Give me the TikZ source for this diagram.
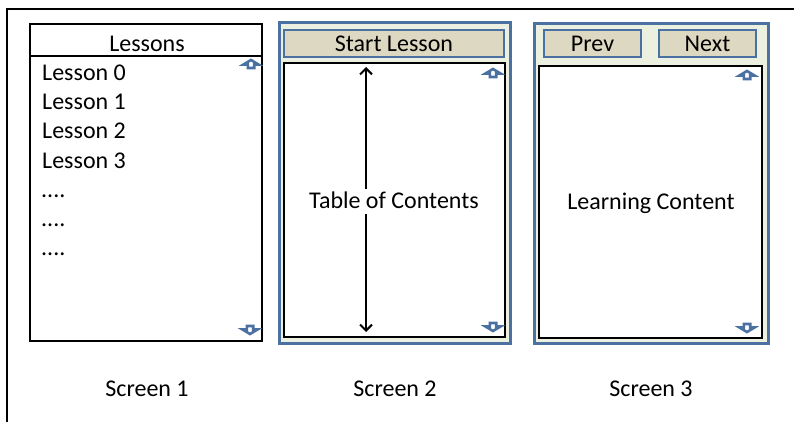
\documentclass[tikz,border=0pt]{standalone}
\usepackage{fontspec}
\setmainfont{Carlito}
\usetikzlibrary{arrows.meta}
\definecolor{frameblue}{HTML}{4B71A3}
\definecolor{panelbg}{HTML}{ECF0E1}
\definecolor{btnfill}{HTML}{DDD8C2}
\tikzset{
  every node/.style={font=\fontsize{24}{29}\selectfont, inner sep=0pt},
  listbox/.style={draw=black, line width=2.4pt, fill=white, rectangle},
  panel/.style={draw=frameblue, line width=3pt, fill=panelbg, rectangle},
  btn/.style={draw=frameblue, line width=2.6pt, fill=btnfill, rectangle},
  item/.style={anchor=base west},
  caption/.style={},
  tocarrow/.style={line width=2pt, -{Straight Barb[length=6pt, width=12pt, line width=2pt]}},
  scrollicon/.style={draw=frameblue, fill=white, line width=2.6pt, line join=miter},
  pics/upicon/.style={code={\path[scrollicon] (-7.5,0.5) -- (0,-4) -- (7.5,0.5) -- (3.2,0.5) -- (3.2,4) -- (-3.2,4) -- (-3.2,0.5) -- cycle;}},
  pics/downicon/.style={code={\path[scrollicon] (-7.5,-0.5) -- (0,4) -- (7.5,-0.5) -- (3.2,-0.5) -- (3.2,-4) -- (-3.2,-4) -- (-3.2,-0.5) -- cycle;}},
}
\begin{document}
\begin{tikzpicture}[x=1pt, y=-1pt]
\useasboundingbox (0,0) rectangle (794,422);
% outer frame
\coordinate (fBL) at (7,423);
\coordinate (fTL) at (7,9);
\coordinate (fTR) at (795,9);
\draw[line width=2.5pt] (fBL) -- (fTL) -- (fTR);

% Screen 1: lesson list
\node[listbox, minimum width=232pt, minimum height=317pt] (s1) at (146,182.5) {};
\coordinate (h1L) at (30,56);
\coordinate (h1R) at (263,56);
\draw[line width=2.4pt] (h1L) -- (h1R);
\node (lessons) at (147,44) {Lessons};
\node[item] (l0) at (42,81) {Lesson 0};
\node[item] (l1) at (42,110) {Lesson 1};
\node[item] (l2) at (42,139) {Lesson 2};
\node[item] (l3) at (42,168) {Lesson 3};
\node[item] (d1) at (41,197) {....};
\node[item] (d2) at (41,226) {....};
\node[item] (d3) at (41,255) {....};
\pic at (251,64) {upicon};
\pic at (250,330) {downicon};
\node[caption] (c1) at (147,389) {Screen 1};

% Screen 2: table of contents
\node[panel, minimum width=231pt, minimum height=320pt] (s2) at (394.5,183) {};
\node[btn, minimum width=220pt, minimum height=27pt] (start) at (394,43.5) {Start Lesson};
\node[listbox, minimum width=221pt, minimum height=274pt] (toc) at (394.5,200) {};
\node (toctext) at (394,200) {Table of Contents};
\coordinate (aTop) at (366,67);
\coordinate (aMidT) at (366,189);
\coordinate (aMidB) at (366,214);
\coordinate (aBot) at (366,332);
\draw[tocarrow] (aMidT) -- (aTop);
\draw[tocarrow] (aMidB) -- (aBot);
\pic at (493,73) {upicon};
\pic at (493,327) {downicon};
\node[caption] (c2) at (395,389) {Screen 2};

% Screen 3: learning content
\node[panel, minimum width=234pt, minimum height=319pt] (s3) at (651,183.5) {};
\node[btn, minimum width=97pt, minimum height=27pt] (prev) at (592.5,43.5) {Prev};
\node[btn, minimum width=97pt, minimum height=27pt] (next) at (707.5,43.5) {Next};
\node[listbox, minimum width=223pt, minimum height=272pt] (content) at (650.5,202) {};
\node (ctext) at (651,203) {Learning Content};
\pic at (747,75) {upicon};
\pic at (747,328) {downicon};
\node[caption] (c3) at (651,389) {Screen 3};
\end{tikzpicture}
\end{document}
